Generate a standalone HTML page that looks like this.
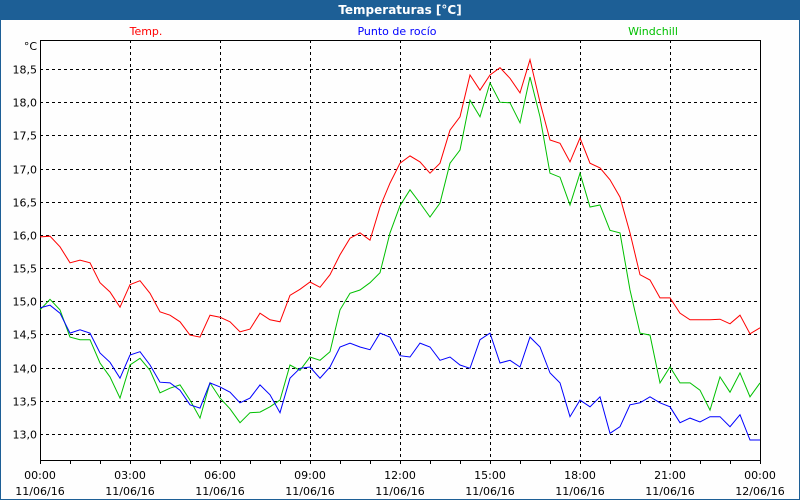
<!DOCTYPE html>
<html><head><meta charset="utf-8"><style>
body{margin:0;background:#fff}
#wrap{position:relative;width:800px;height:500px;overflow:hidden;background:#fefefe;font-family:Tahoma,"DejaVu Sans","Liberation Sans",sans-serif}
#title{position:absolute;left:0;top:0;width:800px;height:20px;background:#1d5f96;color:#fff;font-weight:bold;font-size:12px;text-align:center;line-height:20px}
svg{position:absolute;left:0;top:0}
</style></head><body>
<div id="wrap">
<div id="title">Temperaturas [°C]</div>
<svg id="chart" width="800" height="500"></svg>
</div>
<script>
const timeLabels=["00:00","03:00","06:00","09:00","12:00","15:00","18:00","21:00","00:00"];
const dateLabels=["11/06/16","11/06/16","11/06/16","11/06/16","11/06/16","11/06/16","11/06/16","11/06/16","12/06/16"];
const yTicks=[13.0,13.5,14.0,14.5,15.0,15.5,16.0,16.5,17.0,17.5,18.0,18.5];
const temp=[15.97,15.98,15.82,15.58,15.62,15.58,15.28,15.14,14.91,15.25,15.31,15.12,14.84,14.79,14.69,14.49,14.46,14.79,14.76,14.69,14.54,14.58,14.82,14.72,14.69,15.09,15.18,15.29,15.21,15.40,15.70,15.95,16.03,15.92,16.42,16.78,17.08,17.19,17.10,16.93,17.08,17.58,17.78,18.41,18.18,18.41,18.52,18.36,18.14,18.64,18.00,17.43,17.38,17.10,17.46,17.08,17.01,16.83,16.57,16.03,15.40,15.32,15.05,15.05,14.82,14.72,14.72,14.72,14.73,14.66,14.79,14.51,14.60];
const dew=[14.90,14.94,14.82,14.52,14.57,14.52,14.22,14.08,13.84,14.19,14.24,14.04,13.78,13.77,13.66,13.44,13.39,13.77,13.71,13.63,13.47,13.54,13.74,13.59,13.32,13.84,13.99,14.01,13.84,14.01,14.31,14.37,14.31,14.27,14.52,14.46,14.18,14.16,14.37,14.31,14.11,14.16,14.04,13.99,14.42,14.52,14.07,14.11,14.01,14.46,14.31,13.92,13.77,13.26,13.51,13.41,13.56,13.01,13.11,13.44,13.47,13.56,13.47,13.41,13.17,13.24,13.18,13.26,13.26,13.11,13.29,12.91,12.91];
const windchill=[14.87,15.03,14.87,14.46,14.42,14.42,14.07,13.86,13.54,14.04,14.14,13.96,13.62,13.69,13.74,13.51,13.24,13.77,13.54,13.38,13.17,13.32,13.33,13.41,13.51,14.04,13.96,14.16,14.11,14.24,14.87,15.12,15.17,15.28,15.43,16.03,16.44,16.68,16.48,16.27,16.48,17.08,17.28,18.03,17.78,18.29,18.00,17.99,17.69,18.38,17.78,16.93,16.87,16.45,16.93,16.42,16.45,16.07,16.03,15.17,14.52,14.49,13.77,14.01,13.77,13.77,13.66,13.36,13.86,13.63,13.92,13.56,13.77];

const L=40,R=760,T=40,B=460;
const NS='http://www.w3.org/2000/svg';
const svg=document.getElementById('chart');
function xPos(i,n){return L+(R-L)*i/(n-1);}
function yPos(v){return 69+(18.5-v)*66.36;}
function mk(tag,attrs){const e=document.createElementNS(NS,tag);for(const k in attrs)e.setAttribute(k,attrs[k]);svg.appendChild(e);return e;}

// gridlines
for(let i=1;i<timeLabels.length-1;i++){
  const x=L+(R-L)*i/(timeLabels.length-1)+0.5;
  const g=mk('line',{x1:x,y1:T,x2:x,y2:B,stroke:'#000','stroke-dasharray':'3,3'});
  
  
}
yTicks.forEach(v=>{
  const y=Math.round(yPos(v))+0.5;
  const g=mk('line',{x1:L,y1:y,x2:R,y2:y,stroke:'#000','stroke-dasharray':'3,3'});
  
  
  const t=mk('text',{x:37,y:y+4,'text-anchor':'end','font-size':'11',fill:'#000'});
  t.textContent=v.toFixed(1).replace('.',',');
  
  
});
// minor ticks
for(let i=0;i<=24;i++){
  const x=L+(R-L)*i/24+0.5;
  const tk=mk('line',{x1:x,y1:B,x2:x,y2:B+4,stroke:'#000'});
  
  
}
timeLabels.forEach((s,i)=>{
  const x=L+(R-L)*i/(timeLabels.length-1);
  const t1=mk('text',{x:x,y:479,'text-anchor':'middle','font-size':'11',fill:'#000'});
  t1.textContent=s;
  
  
  const t2=mk('text',{x:x,y:495,'text-anchor':'middle','font-size':'11',fill:'#000'});
  t2.textContent=dateLabels[i];
  
  
});
// axes frame
const fr=mk('rect',{x:L+0.5,y:T+0.5,width:R-L,height:B-T,fill:'none',stroke:'#000'});


const unit=mk('text',{x:37,y:50,'text-anchor':'end','font-size':'11',fill:'#000'});
unit.textContent='°C';



function series(arr,color,name){
  const pts=arr.map((v,i)=>xPos(i,arr.length).toFixed(1)+','+yPos(v).toFixed(1)).join(' ');
  const p=mk('polyline',{points:pts,fill:'none',stroke:color,'stroke-width':'1'});
  
  
}
series(windchill,'#00c000','windchill-line');
series(dew,'#0000ff','dew-point-line');
series(temp,'#ff0000','temp-line');

const l1=mk('text',{x:146,y:35,'text-anchor':'middle','font-size':'11',fill:'#ff0000'});
l1.textContent='Temp.';


const l2=mk('text',{x:397,y:35,'text-anchor':'middle','font-size':'11',fill:'#0000ff'});
l2.textContent='Punto de rocío';


const l3=mk('text',{x:653,y:35,'text-anchor':'middle','font-size':'11',fill:'#00c000'});
l3.textContent='Windchill';


// window border
const bd=mk('rect',{x:0.5,y:0.5,width:799,height:499,fill:'none',stroke:'#1d5f96'});


</script>
</body></html>
